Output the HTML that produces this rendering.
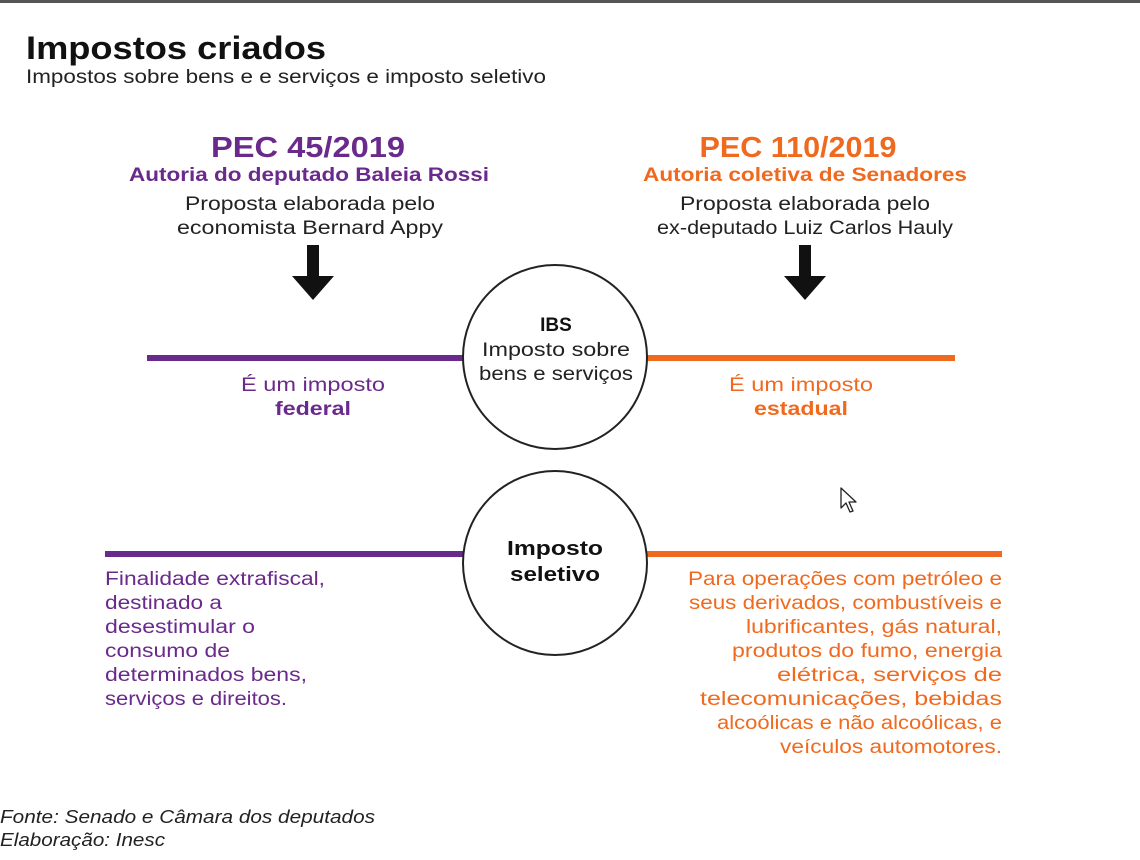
<!DOCTYPE html>
<html><head><meta charset="utf-8"><style>
html,body{margin:0;padding:0;background:#fff;}
svg{display:block;font-family:"Liberation Sans",sans-serif;}
</style></head><body>
<svg width="1140" height="860" viewBox="0 0 1140 860" xmlns="http://www.w3.org/2000/svg">
<rect x="0" y="0" width="1140" height="3" fill="#555"/>
<text x="26" y="59" font-size="32" font-weight="bold" fill="#111" textLength="300" lengthAdjust="spacingAndGlyphs">Impostos criados</text>
<text x="26" y="83" font-size="19" fill="#222" textLength="520" lengthAdjust="spacingAndGlyphs">Impostos sobre bens e e serviços e imposto seletivo</text>

<g text-anchor="middle">
<text x="308" y="157" font-size="29" font-weight="bold" fill="#6a2a8c" textLength="194" lengthAdjust="spacingAndGlyphs">PEC 45/2019</text>
<text x="309" y="181" font-size="19" font-weight="bold" fill="#6a2a8c" textLength="360" lengthAdjust="spacingAndGlyphs">Autoria do deputado Baleia Rossi</text>
<text x="310" y="210" font-size="19" fill="#222" textLength="250" lengthAdjust="spacingAndGlyphs">Proposta elaborada pelo</text>
<text x="310" y="234" font-size="19" fill="#222" textLength="266" lengthAdjust="spacingAndGlyphs">economista Bernard Appy</text>

<text x="798" y="157" font-size="29" font-weight="bold" fill="#ef6a1f" textLength="197" lengthAdjust="spacingAndGlyphs">PEC 110/2019</text>
<text x="805" y="181" font-size="19" font-weight="bold" fill="#ef6a1f" textLength="324" lengthAdjust="spacingAndGlyphs">Autoria coletiva de Senadores</text>
<text x="805" y="210" font-size="19" fill="#222" textLength="250" lengthAdjust="spacingAndGlyphs">Proposta elaborada pelo</text>
<text x="805" y="234" font-size="19" fill="#222" textLength="296" lengthAdjust="spacingAndGlyphs">ex-deputado Luiz Carlos Hauly</text>
</g>

<polygon points="307,245 319,245 319,276 334,276 313,300 292,276 307,276" fill="#111"/>
<polygon points="799,245 811,245 811,276 826,276 805,300 784,276 799,276" fill="#111"/>

<rect x="147" y="355" width="316" height="6" fill="#6a2a8c"/>
<rect x="647" y="355" width="308" height="6" fill="#ef6a1f"/>
<rect x="105" y="551" width="358" height="6" fill="#6a2a8c"/>
<rect x="647" y="551" width="355" height="6" fill="#ef6a1f"/>

<circle cx="555" cy="357" r="92" fill="#fff" stroke="#222" stroke-width="2"/>
<circle cx="555" cy="563" r="92" fill="#fff" stroke="#222" stroke-width="2"/>

<g text-anchor="middle">
<text x="556" y="331" font-size="19" font-weight="bold" fill="#111">IBS</text>
<text x="556" y="356" font-size="19" fill="#222" textLength="148" lengthAdjust="spacingAndGlyphs">Imposto sobre</text>
<text x="556" y="380" font-size="19" fill="#222" textLength="154" lengthAdjust="spacingAndGlyphs">bens e serviços</text>
<text x="555" y="555" font-size="20" font-weight="bold" fill="#111" textLength="96" lengthAdjust="spacingAndGlyphs">Imposto</text>
<text x="555" y="581" font-size="20" font-weight="bold" fill="#111" textLength="90" lengthAdjust="spacingAndGlyphs">seletivo</text>

<text x="313" y="391" font-size="19" fill="#6a2a8c" textLength="144" lengthAdjust="spacingAndGlyphs">É um imposto</text>
<text x="313" y="415" font-size="19" font-weight="bold" fill="#6a2a8c" textLength="76" lengthAdjust="spacingAndGlyphs">federal</text>
<text x="801" y="391" font-size="19" fill="#ef6a1f" textLength="144" lengthAdjust="spacingAndGlyphs">É um imposto</text>
<text x="801" y="415" font-size="19" font-weight="bold" fill="#ef6a1f" textLength="94" lengthAdjust="spacingAndGlyphs">estadual</text>
</g>

<g font-size="19" fill="#6a2a8c">
<text x="105" y="585" textLength="220" lengthAdjust="spacingAndGlyphs">Finalidade extrafiscal,</text>
<text x="105" y="609" textLength="117" lengthAdjust="spacingAndGlyphs">destinado a</text>
<text x="105" y="633" textLength="150" lengthAdjust="spacingAndGlyphs">desestimular o</text>
<text x="105" y="657" textLength="125" lengthAdjust="spacingAndGlyphs">consumo de</text>
<text x="105" y="681" textLength="202" lengthAdjust="spacingAndGlyphs">determinados bens,</text>
<text x="105" y="705" textLength="182" lengthAdjust="spacingAndGlyphs">serviços e direitos.</text>
</g>

<g font-size="19" fill="#ef6a1f">
<text x="688" y="585" textLength="314" lengthAdjust="spacingAndGlyphs">Para operações com petróleo e</text>
<text x="689" y="609" textLength="313" lengthAdjust="spacingAndGlyphs">seus derivados, combustíveis e</text>
<text x="746" y="633" textLength="256" lengthAdjust="spacingAndGlyphs">lubrificantes, gás natural,</text>
<text x="732" y="657" textLength="270" lengthAdjust="spacingAndGlyphs">produtos do fumo, energia</text>
<text x="777" y="681" textLength="225" lengthAdjust="spacingAndGlyphs">elétrica, serviços de</text>
<text x="700" y="705" textLength="302" lengthAdjust="spacingAndGlyphs">telecomunicações, bebidas</text>
<text x="717" y="729" textLength="285" lengthAdjust="spacingAndGlyphs">alcoólicas e não alcoólicas, e</text>
<text x="780" y="753" textLength="222" lengthAdjust="spacingAndGlyphs">veículos automotores.</text>
</g>

<path d="M841,488 L841,508 L846,503 L850,512 L853,511 L849,502 L856,502 Z" fill="#fff" stroke="#222" stroke-width="1.3" stroke-linejoin="round"/>

<g font-size="18" font-style="italic" fill="#222">
<text x="0" y="823" textLength="375" lengthAdjust="spacingAndGlyphs">Fonte: Senado e Câmara dos deputados</text>
<text x="0" y="846" textLength="165" lengthAdjust="spacingAndGlyphs">Elaboração: Inesc</text>
</g>
</svg>
</body></html>
